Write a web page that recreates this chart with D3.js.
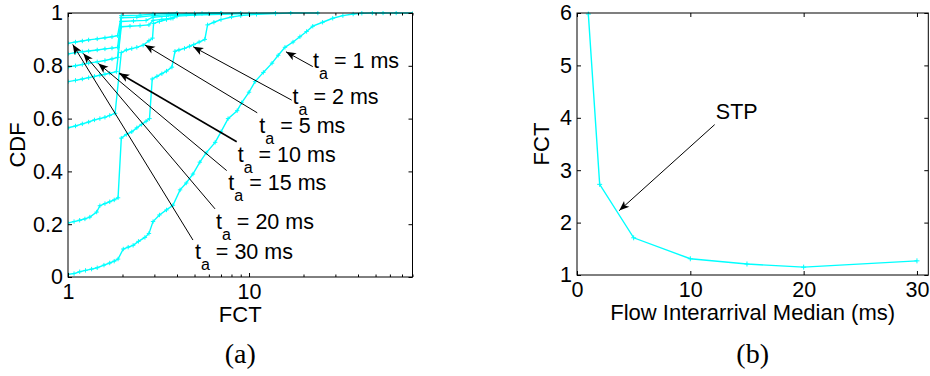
<!DOCTYPE html>
<html>
<head>
<meta charset="utf-8">
<script src="https://cdn.jsdelivr.net/npm/d3@7"></script>
<style>
  body { margin: 0; background: #fff; }
  svg { display: block; }
  text { font-family: "Liberation Sans", Arial, Helvetica, sans-serif; white-space: pre; }
  .caption { font-family: "Liberation Serif", "DejaVu Serif", serif; }
</style>
</head>
<body>
<svg id="chart" width="930" height="376"></svg>
<script>
// ---- (a) CDF of flow completion time, one curve per interarrival median ----
const cdfTa1 = [[1,0.01],[1.08,0.013],[1.16,0.02],[1.25,0.025],[1.35,0.03],[1.45,0.035],[1.58,0.045],[1.7,0.053],[1.8,0.06],[1.89,0.068],[2.02,0.106],[2.15,0.113],[2.29,0.12],[2.45,0.135],[2.66,0.15],[2.8,0.165],[2.95,0.21],[3.2,0.235],[3.5,0.254],[3.8,0.272],[4.16,0.33],[4.5,0.356],[4.9,0.39],[5.35,0.435],[5.8,0.47],[6.5,0.51],[7.0,0.55],[7.66,0.6],[8.6,0.63],[9.1,0.66],[10,0.70],[10.8,0.74],[12,0.775],[13.4,0.81],[14.5,0.84],[15.8,0.87],[17.5,0.89],[19.1,0.91],[20.8,0.93],[22.5,0.95],[25.5,0.965],[29,0.98],[33,0.99],[37.6,0.996],[42,0.999],[48,1],[55,1],[65,1],[80,1]];
const cdfTa2 = [[1,0.205],[1.08,0.21],[1.16,0.215],[1.24,0.22],[1.32,0.227],[1.44,0.246],[1.5,0.27],[1.6,0.278],[1.7,0.285],[1.8,0.292],[1.89,0.3],[1.97,0.526],[2.1,0.54],[2.25,0.55],[2.4,0.565],[2.55,0.578],[2.7,0.59],[2.82,0.6],[2.92,0.75],[3.1,0.76],[3.3,0.77],[3.5,0.78],[3.75,0.795],[3.9,0.855],[4.1,0.86],[4.4,0.866],[4.7,0.874],[4.95,0.88],[5.3,0.89],[5.7,0.9],[5.9,0.955],[6.4,0.965],[7,0.975],[8,0.985],[9,0.99],[11,0.995],[14,0.998],[17,1],[24,1]];
const cdfTa5 = [[1,0.565],[1.1,0.572],[1.2,0.58],[1.3,0.587],[1.4,0.595],[1.5,0.6],[1.6,0.605],[1.7,0.612],[1.82,0.62],[1.97,0.85],[2.1,0.86],[2.25,0.865],[2.4,0.87],[2.6,0.878],[2.8,0.895],[2.93,0.905],[2.97,0.96],[3.2,0.968],[3.5,0.975],[3.8,0.98],[3.95,0.99],[4.5,0.995],[5.5,0.998],[7,1]];
const cdfTa10 = [[1,0.74],[1.1,0.745],[1.2,0.75],[1.3,0.755],[1.4,0.76],[1.5,0.764],[1.6,0.768],[1.7,0.772],[1.85,0.778],[1.97,0.948],[2.2,0.95],[2.5,0.952],[2.8,0.955],[2.95,0.972],[3.3,0.976],[3.7,0.98],[4,0.988],[5,0.992],[7,0.995],[10,0.998],[14,1]];
const cdfTa15 = [[1,0.795],[1.1,0.8],[1.2,0.805],[1.3,0.81],[1.45,0.815],[1.6,0.82],[1.75,0.826],[1.88,0.832],[1.97,0.968],[2.3,0.97],[2.7,0.972],[2.95,0.984],[3.5,0.988],[4,0.993],[6,0.997],[9,1]];
const cdfTa20 = [[1,0.845],[1.1,0.85],[1.2,0.853],[1.3,0.856],[1.45,0.86],[1.6,0.864],[1.75,0.867],[1.88,0.87],[1.97,0.982],[2.4,0.984],[2.95,0.99],[3.6,0.994],[5,0.998],[7,1]];
const cdfTa30 = [[1,0.885],[1.1,0.89],[1.2,0.894],[1.3,0.898],[1.45,0.902],[1.6,0.906],[1.75,0.91],[1.88,0.914],[1.97,0.99],[2.5,0.992],[2.95,0.996],[4,1]];

const cdfSeries = [cdfTa1, cdfTa2, cdfTa5, cdfTa10, cdfTa15, cdfTa20, cdfTa30];
const taValues = ["1", "2", "5", "10", "15", "20", "30"];

// text arrows in data units (FCT, CDF): arrow head, arrow tail, label anchor
const arrowHeads = [[16.0,0.853],[4.92,0.872],[2.66,0.879],[1.92,0.772],[1.47,0.809],[1.215,0.847],[1.062,0.881]];
const arrowTails = [[22.5,0.797],[17.2,0.670],[11.1,0.622],[8.55,0.5125],[7.53,0.403],[6.49,0.258],[4.90,0.140]];
const labelAnchors = [[22.6,0.792],[17.4,0.655],[11.4,0.545],[8.66,0.4375],[7.69,0.3295],[6.57,0.182],[5.03,0.0663]];

const cdfTicks = [0, 0.2, 0.4, 0.6, 0.8, 1];
const fctMajorTicks = [1, 10];
const fctMinorTicks = [2,3,4,5,6,7,8,9,20,30,40,50,60,70,80];

// ---- (b) mean FCT versus flow interarrival median ----
const interarrivalMedian = [1, 2, 5, 10, 15, 20, 30];
const meanFct = [5.98, 2.73, 1.71, 1.31, 1.21, 1.15, 1.27];
const medianTicks = [0, 10, 20, 30];
const fctTicks = [1, 2, 3, 4, 5, 6];
const stpHead = [3.73, 2.23];
const stpTail = [12.15, 3.87];
const stpLabel = [12.25, 3.98];

const CYAN = "#00ffff";
const FONT = 21.5;
const svg = d3.select("#chart");

svg.append("defs").append("marker")
  .attr("id", "head")
  .attr("markerUnits", "userSpaceOnUse")
  .attr("markerWidth", 14).attr("markerHeight", 14)
  .attr("viewBox", "-12 -7 14 14")
  .attr("refX", 0).attr("refY", 0)
  .attr("orient", "auto")
  .append("path")
  .attr("d", "M0,0L-10,-4L-7.5,0L-10,4Z")
  .attr("fill", "#000");

const plus = s => `M${-s},0H${s}M0,${-s}V${s}`;

function box(g, x0, x1, y0, y1) {
  g.append("rect")
    .attr("x", x0).attr("y", y0)
    .attr("width", x1 - x0).attr("height", y1 - y0)
    .attr("fill", "none").attr("stroke", "#000").attr("stroke-width", 1);
}

function styleAxis(sel) {
  sel.select(".domain").remove();
  sel.selectAll("line").attr("stroke", "#000");
  sel.selectAll("text").attr("font-size", FONT).attr("fill", "#000")
    .attr("font-family", '"Liberation Sans", Arial, sans-serif');
}

// ================= panel (a) =================
const A = { left: 68, right: 412.5, top: 13, bottom: 277 };
const xA = d3.scaleLog().domain([1, 80]).range([A.left, A.right]);
const yA = d3.scaleLinear().domain([0, 1]).range([A.bottom, A.top]);
const gA = svg.append("g");

gA.append("clipPath").attr("id", "clipA").append("rect")
  .attr("x", A.left).attr("y", A.top - 2)
  .attr("width", A.right - A.left).attr("height", A.bottom - A.top + 2);

const lineA = d3.line().x(d => xA(d[0])).y(d => yA(d[1]));
const curves = gA.append("g").attr("clip-path", "url(#clipA)");
cdfSeries.forEach(s => {
  curves.append("path").datum(s)
    .attr("d", lineA).attr("fill", "none")
    .attr("stroke", CYAN).attr("stroke-width", 1.4);
  curves.selectAll(null).data(s).enter().append("path")
    .attr("transform", d => `translate(${xA(d[0])},${yA(d[1])})`)
    .attr("d", plus(2.2)).attr("stroke", CYAN).attr("stroke-width", 1);
});

// ticks: bottom/top major + minor, left/right
gA.append("g").attr("transform", `translate(0,${A.bottom})`)
  .call(d3.axisBottom(xA).tickValues(fctMajorTicks).tickFormat(d3.format("d"))
    .tickSize(-4).tickPadding(7)).call(styleAxis);
gA.append("g").attr("transform", `translate(0,${A.bottom})`)
  .call(d3.axisBottom(xA).tickValues(fctMinorTicks).tickFormat("").tickSize(-2.5)).call(styleAxis);
gA.append("g").attr("transform", `translate(0,${A.top})`)
  .call(d3.axisTop(xA).tickValues(fctMajorTicks).tickFormat("").tickSize(-4)).call(styleAxis);
gA.append("g").attr("transform", `translate(0,${A.top})`)
  .call(d3.axisTop(xA).tickValues(fctMinorTicks).tickFormat("").tickSize(-2.5)).call(styleAxis);
gA.append("g").attr("transform", `translate(${A.left},0)`)
  .call(d3.axisLeft(yA).tickValues(cdfTicks).tickFormat(d => String(d))
    .tickSize(-4).tickPadding(5)).call(styleAxis);
gA.append("g").attr("transform", `translate(${A.right},0)`)
  .call(d3.axisRight(yA).tickValues(cdfTicks).tickFormat("").tickSize(-4)).call(styleAxis);
box(gA, A.left, A.right, A.top, A.bottom);

gA.append("text").attr("x", (A.left + A.right) / 2).attr("y", 322)
  .attr("text-anchor", "middle").attr("font-size", 22).text("FCT");
gA.append("text")
  .attr("transform", `translate(25,${(A.top + A.bottom) / 2}) rotate(-90)`)
  .attr("text-anchor", "middle").attr("font-size", 22).text("CDF");

// text arrows naming each curve
taValues.forEach((v, i) => {
  gA.append("line")
    .attr("x1", xA(arrowTails[i][0])).attr("y1", yA(arrowTails[i][1]))
    .attr("x2", xA(arrowHeads[i][0])).attr("y2", yA(arrowHeads[i][1]))
    .attr("stroke", "#000").attr("stroke-width", v === "10" ? 1.6 : 1)
    .attr("marker-end", "url(#head)");
  const t = gA.append("text")
    .attr("x", xA(labelAnchors[i][0])).attr("y", yA(labelAnchors[i][1]))
    .attr("font-size", FONT);
  t.append("tspan").text("t");
  t.append("tspan").attr("dy", 11).attr("font-size", 16).text("a");
  t.append("tspan").attr("dy", -11).text(" = " + v + " ms");
});

gA.append("text").attr("class", "caption")
  .attr("x", (A.left + A.right) / 2).attr("y", 363)
  .attr("text-anchor", "middle").attr("font-size", 28).text("(a)");

// ================= panel (b) =================
const B = { left: 577, right: 928.3, top: 13, bottom: 275 };
const xB = d3.scaleLinear().domain([0, 31]).range([B.left, B.right]);
const yB = d3.scaleLinear().domain([1, 6]).range([B.bottom, B.top]);
const gB = svg.append("g");

const pts = interarrivalMedian.map((m, i) => [m, meanFct[i]]);
gB.append("path").datum(pts)
  .attr("d", d3.line().x(d => xB(d[0])).y(d => yB(d[1])))
  .attr("fill", "none").attr("stroke", CYAN).attr("stroke-width", 1.4);
gB.selectAll(null).data(pts).enter().append("path")
  .attr("transform", d => `translate(${xB(d[0])},${yB(d[1])})`)
  .attr("d", plus(2.5)).attr("stroke", CYAN).attr("stroke-width", 1);

gB.append("g").attr("transform", `translate(0,${B.bottom})`)
  .call(d3.axisBottom(xB).tickValues(medianTicks).tickFormat(d3.format("d"))
    .tickSize(-4).tickPadding(7)).call(styleAxis);
gB.append("g").attr("transform", `translate(0,${B.top})`)
  .call(d3.axisTop(xB).tickValues(medianTicks).tickFormat("").tickSize(-4)).call(styleAxis);
gB.append("g").attr("transform", `translate(${B.left},0)`)
  .call(d3.axisLeft(yB).tickValues(fctTicks).tickFormat(d3.format("d"))
    .tickSize(-4).tickPadding(5)).call(styleAxis);
gB.append("g").attr("transform", `translate(${B.right},0)`)
  .call(d3.axisRight(yB).tickValues(fctTicks).tickFormat("").tickSize(-4)).call(styleAxis);
box(gB, B.left, B.right, B.top, B.bottom);

gB.append("text").attr("x", (B.left + B.right) / 2).attr("y", 320)
  .attr("text-anchor", "middle").attr("font-size", 22).text("Flow Interarrival Median (ms)");
gB.append("text")
  .attr("transform", `translate(549,${(B.top + B.bottom) / 2}) rotate(-90)`)
  .attr("text-anchor", "middle").attr("font-size", 22).text("FCT");

gB.append("line")
  .attr("x1", xB(stpTail[0])).attr("y1", yB(stpTail[1]))
  .attr("x2", xB(stpHead[0])).attr("y2", yB(stpHead[1]))
  .attr("stroke", "#000").attr("stroke-width", 1)
  .attr("marker-end", "url(#head)");
gB.append("text").attr("x", xB(stpLabel[0])).attr("y", yB(stpLabel[1]))
  .attr("font-size", FONT).text("STP");

gB.append("text").attr("class", "caption")
  .attr("x", (B.left + B.right) / 2).attr("y", 363)
  .attr("text-anchor", "middle").attr("font-size", 28).text("(b)");
</script>
</body>
</html>
